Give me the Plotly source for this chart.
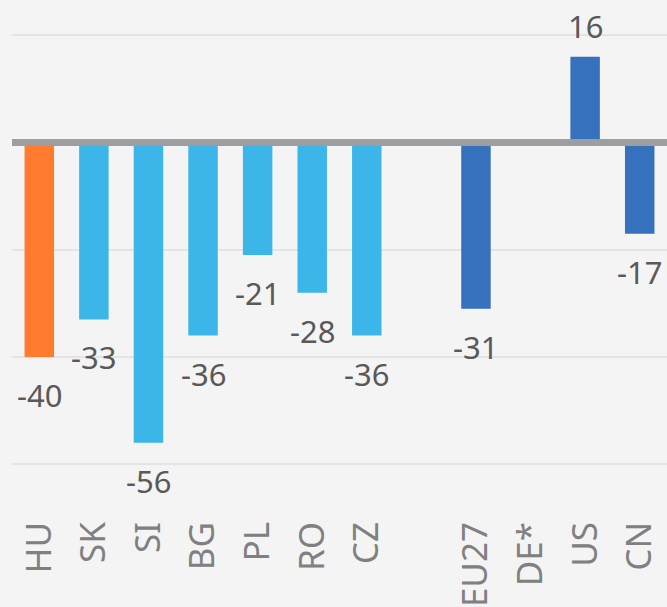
import plotly.graph_objects as go

categories = ["HU", "SK", "SI", "BG", "PL", "RO", "CZ", " ", "EU27", "DE*", "US", "CN"]
values = [-40, -33, -56, -36, -21, -28, -36, None, -31, None, 16, -17]
groups = ["hu", "cee", "cee", "cee", "cee", "cee", "cee", "none", "ref", "ref", "ref", "ref"]

group_colors = {"hu": "#FF7B2E", "cee": "#3CB6E8", "ref": "#3571BC", "none": "#3571BC"}
colors = [group_colors[g] for g in groups]

fig = go.Figure()
fig.add_trace(go.Bar(
    x=categories,
    y=values,
    marker=dict(color=colors, line=dict(width=0)),
    width=0.54,
    hoverinfo="skip",
))

for c, v in zip(categories, values):
    if v is None:
        continue
    fig.add_annotation(
        x=c, y=v, text=str(v), showarrow=False,
        xanchor="center", yanchor="middle",
        yshift=31 if v > 0 else -38,
        font=dict(family="Noto Sans", size=31, color="#595959"),
    )

fig.add_shape(
    type="line", xref="paper", yref="y", x0=0, x1=1, y0=0, y1=0,
    line=dict(color="#9D9EA2", width=7), layer="above",
)

fig.update_layout(
    width=667, height=607,
    margin=dict(l=12, r=0, t=0, b=102),
    paper_bgcolor="#F4F4F4",
    plot_bgcolor="#F4F4F4",
    showlegend=False,
    xaxis=dict(
        type="category",
        categoryorder="array",
        categoryarray=categories,
        tickangle=-90,
        tickfont=dict(family="Noto Sans", size=35, color="#808080"),
        ticklabelstandoff=9,
        showgrid=False, showline=False, ticks="",
        range=[-0.5, len(categories) - 0.5],
    ),
    yaxis=dict(
        range=[-67.6, 26.57],
        dtick=20,
        tick0=0,
        showticklabels=False,
        gridcolor="#E4E4E4",
        gridwidth=2,
        zeroline=False,
        showline=False,
        ticks="",
    ),
)

fig.write_html(
    "out.html",
    config={"displayModeBar": False},
    post_script="document.body.style.margin='0';document.body.style.overflow='hidden';document.body.style.background='#F4F4F4';",
)
